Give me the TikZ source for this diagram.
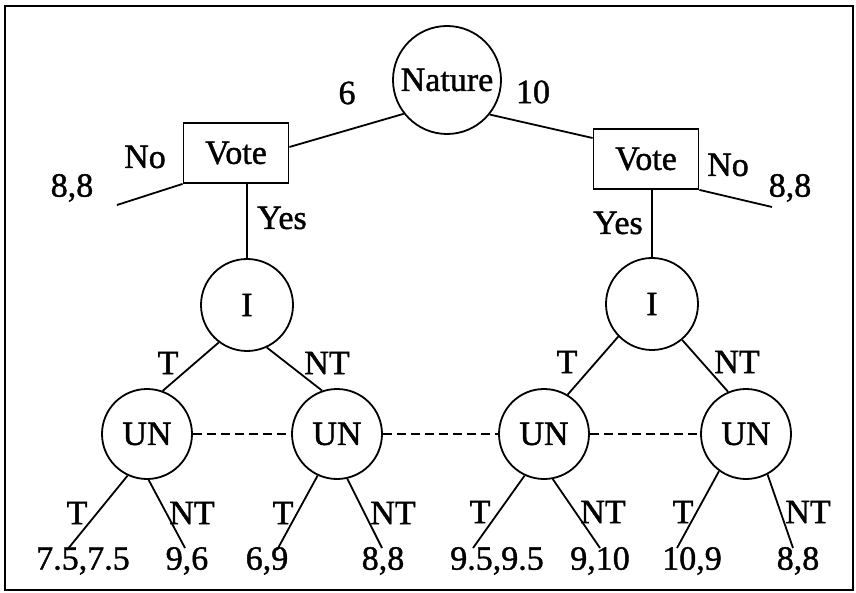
\documentclass[tikz,border=0pt]{standalone}
\usepackage{fontspec}
\setmainfont[FakeBold=1.2]{Liberation Serif}
\begin{document}
\begin{tikzpicture}[x=1pt,y=-1pt,
  every node/.style={font=\fontsize{34}{38}\selectfont},
  edge/.style={line width=1.8pt},
  chance/.style={circle,draw,line width=1.8pt,inner sep=0pt},
  votebox/.style={rectangle,draw,line width=1.8pt,minimum width=105pt,minimum height=60pt,inner sep=0pt},
  lbl/.style={inner sep=0pt},
  info/.style={line width=1.8pt,dash pattern=on 9pt off 5pt}]
\useasboundingbox (0,0) rectangle (856,593);
\draw[line width=2.2pt] (5,6) rectangle (853,590);
% nodes
\node[chance,minimum size=108pt] (N) at (447,80) {Nature};
\node[votebox] (VL) at (236,153) {Vote};
\node[votebox] (VR) at (646,159) {Vote};
\node[chance,minimum size=92pt] (IL) at (247,305) {I};
\node[chance,minimum size=92pt] (IR) at (652,304) {I};
\node[chance,minimum size=90pt] (U1) at (147,434) {UN};
\node[chance,minimum size=90pt] (U2) at (337,434) {UN};
\node[chance,minimum size=90pt] (U3) at (544,434) {UN};
\node[chance,minimum size=90pt] (U4) at (746,434) {UN};
% free ends
\coordinate (nl) at (117,205);
\coordinate (nr) at (772,207);
\coordinate (l1) at (67,550);
\coordinate (l2) at (185,548);
\coordinate (l3) at (277,550);
\coordinate (l4) at (382,548);
\coordinate (l5) at (473,548);
\coordinate (l6) at (600,548);
\coordinate (l7) at (677,548);
\coordinate (l8) at (793,548);
% connectors
\draw[edge] (N.218) -- ([yshift=6pt]VL.east);
\draw[edge] (N.321) -- ([yshift=21pt]VR.west);
\draw[edge] (VL.south west) -- (nl);
\draw[edge] (VR.south east) -- (nr);
\draw[edge] (IL.north) -- (IL.north |- VL.south);
\draw[edge] (IR.north) -- (IR.north |- VR.south);
\draw[edge] (IL.233) -- (U1.70);
\draw[edge] (IL.295) -- (U2.109);
\draw[edge] (IR.224) -- (U3.59);
\draw[edge] (IR.310) -- (U4.113);
\draw[edge] (U1.245) -- (l1);
\draw[edge] (U1.272) -- (l2);
\draw[edge] (U2.245) -- (l3);
\draw[edge] (U2.283) -- (l4);
\draw[edge] (U3.245) -- (l5);
\draw[edge] (U3.281) -- (l6);
\draw[edge] (U4.234) -- (l7);
\draw[edge] (U4.298) -- (l8);
\draw[info] (U1) -- (U2);
\draw[info] (U2) -- (U3);
\draw[info] (U3) -- (U4);
% labels
\node[lbl] (t6) at (347,93) {6};
\node[lbl] (t10) at (533,92) {10};
\node[lbl] (noL) at (145,157) {No};
\node[lbl] (pL) at (72,188) {8,8};
\node[lbl] (yesL) at (282,218) {Yes};
\node[lbl] (yesR) at (618,223) {Yes};
\node[lbl] (noR) at (728,165) {No};
\node[lbl] (pR) at (790,188) {8,8};
\node[lbl] (a1) at (168,363) {T};
\node[lbl] (a2) at (327,363) {NT};
\node[lbl] (a3) at (567,362) {T};
\node[lbl] (a4) at (737,362) {NT};
\node[lbl] (b1) at (77,513) {T};
\node[lbl] (b2) at (192,513) {NT};
\node[lbl] (b3) at (283,513) {T};
\node[lbl] (b4) at (393,513) {NT};
\node[lbl] (b5) at (480,512) {T};
\node[lbl] (b6) at (603,512) {NT};
\node[lbl] (b7) at (683,512) {T};
\node[lbl] (b8) at (808,512) {NT};
\node[lbl] (v1) at (83,561) {7.5,7.5};
\node[lbl] (v2) at (187,561) {9,6};
\node[lbl] (v3) at (267,561) {6,9};
\node[lbl] (v4) at (383,561) {8,8};
\node[lbl] (v5) at (497,561) {9.5,9.5};
\node[lbl] (v6) at (600,561) {9,10};
\node[lbl] (v7) at (692,561) {10,9};
\node[lbl] (v8) at (798,561) {8,8};
\end{tikzpicture}
\end{document}
